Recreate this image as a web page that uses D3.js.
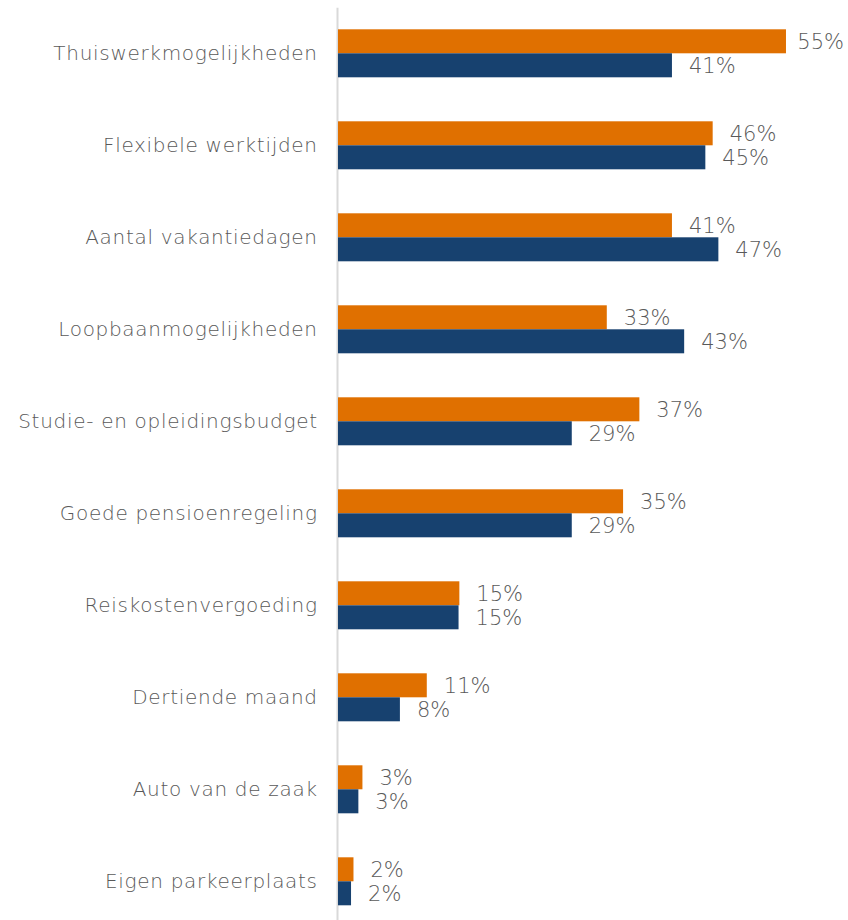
<!DOCTYPE html>
<html>
<head>
<meta charset="utf-8">
<script src="https://cdn.jsdelivr.net/npm/d3@7"></script>
<style>
  html, body { margin: 0; padding: 0; background: #fff; }
  svg { display: block; }
  text { font-family: "DejaVu Sans", "Open Sans", sans-serif; font-weight: 200; font-style: normal; fill: #595959; }
</style>
</head>
<body>
<svg id="chart" width="848" height="920"></svg>
<script>
const categories = [
  "Thuiswerkmogelijkheden",
  "Flexibele werktijden",
  "Aantal vakantiedagen",
  "Loopbaanmogelijkheden",
  "Studie- en opleidingsbudget",
  "Goede pensioenregeling",
  "Reiskostenvergoeding",
  "Dertiende maand",
  "Auto van de zaak",
  "Eigen parkeerplaats"
];
const seriesNames = ["oranje", "blauw"];
const orangeValues = [55, 46, 41, 33, 37, 35, 14.9, 10.9, 3, 1.9];
const blueValues   = [41, 45.1, 46.7, 42.5, 28.7, 28.7, 14.8, 7.6, 2.5, 1.6];
const seriesColors = ["#E07000", "#17416F"];

const data = categories.map((c, i) => ({
  cat: c,
  vals: [orangeValues[i], blueValues[i]]
}));

const svg = d3.select("#chart");
const W = 848;

const x = d3.scaleLinear().domain([0, 100]).range([338, 338 + 814.5]);
const y = d3.scaleBand().domain(categories).range([7.3, 927.3]).padding(0);
const groupH = 48;
const inner = d3.scaleBand().domain(seriesNames).range([0, groupH]).padding(0);
const fmt = v => d3.format(".0f")(v) + "%";

// axis line
const yAxis = d3.axisLeft(y).tickSize(0).tickPadding(20);
const ax = svg.append("g").attr("transform", `translate(${x(0) - 1},0)`).call(yAxis);
ax.select(".domain").attr("stroke", "#d9d9d9").attr("stroke-width", 2);
ax.selectAll(".tick text")
  .attr("font-size", 20)
  .attr("fill", "#595959")
  .style("font-family", '"DejaVu Sans", "Open Sans", sans-serif')
  .style("font-weight", 200)
  .style("letter-spacing", "0.7px")
  .attr("dy", "0.35em")
  .attr("x", -19.3);

const groups = svg.append("g").selectAll("g").data(data).join("g")
  .attr("transform", d => `translate(0,${y(d.cat) + (y.bandwidth() - groupH) / 2})`);

groups.selectAll("rect").data(d => d.vals.map((v, j) => ({ v, s: seriesNames[j], j })))
  .join("rect")
  .attr("x", x(0))
  .attr("y", d => inner(d.s))
  .attr("width", d => x(d.v) - x(0))
  .attr("height", inner.bandwidth())
  .attr("fill", d => seriesColors[d.j]);

groups.selectAll("text.val").data(d => d.vals.map((v, j) => ({ v, s: seriesNames[j], j })))
  .join("text")
  .attr("class", "val")
  .attr("y", d => inner(d.s) + inner.bandwidth() / 2)
  .attr("dy", "0.35em")
  .attr("font-size", 21)
  .text(d => fmt(d.v))
  .each(function (d) {
    const el = d3.select(this);
    const w = this.getComputedTextLength();
    let px = x(d.v) + 17;
    if (px + w > W - 4) px = W - 4 - w;
    el.attr("x", px);
  });
</script>
</body>
</html>
